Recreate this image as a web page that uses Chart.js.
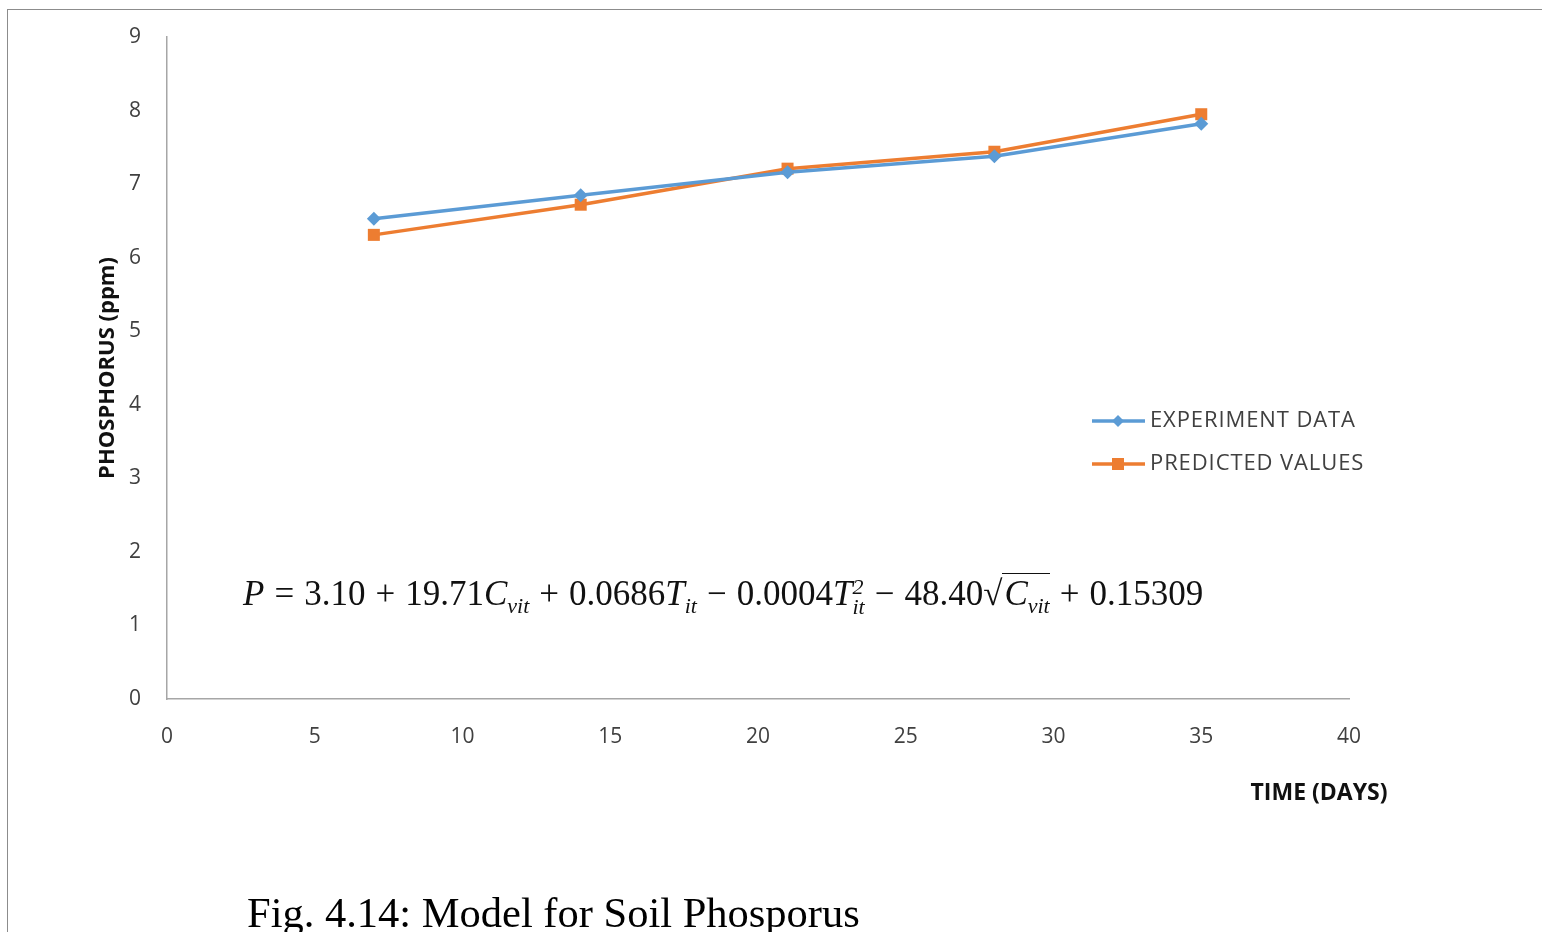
<!DOCTYPE html>
<html>
<head>
<meta charset="utf-8">
<script src="https://cdn.jsdelivr.net/npm/chart.js@4"></script>
<style>
  html, body { margin: 0; padding: 0; background: #fff; overflow: hidden; }
  #wrap { position: relative; width: 1542px; height: 932px; }
  #frame { position: absolute; left: 7px; top: 9px; width: 1600px; height: 1000px;
           border-top: 1px solid #8c8c8c; border-left: 1px solid #8c8c8c; }
  #myChart { position: absolute; left: 0; top: 0; }
  #equation { position: absolute; left: 243px; top: 574px; font-family: "Liberation Serif", serif;
              font-size: 35px; color: #111; white-space: nowrap; }
  #equation i { font-style: italic; }
  #equation sub, #equation sup { font-size: 22px; font-style: italic; }
  #equation .op { margin: 0 10px; }
  .root { border-top: 1.5px solid #111; padding-left: 2px; }
  #caption { position: absolute; left: 247px; top: 888px; font-family: "Liberation Serif", serif;
             font-size: 42.5px; color: #000; white-space: nowrap; }
</style>
</head>
<body>
<div id="wrap">
  <div id="frame"></div>
  <canvas id="myChart" width="1542" height="932"></canvas>
  <div id="equation"><i>P</i><span class="op">=</span>3.10<span class="op">+</span>19.71<i>C</i><sub>vit</sub><span class="op">+</span>0.0686<i>T</i><sub>it</sub><span class="op">&minus;</span>0.0004<i>T</i><span style="display:inline-block;vertical-align:middle;line-height:0.9;font-size:22px;font-style:italic;text-align:left">2<br>it</span><span class="op">&minus;</span>48.40&radic;<span class="root"><i>C</i><sub>vit</sub></span><span class="op">+</span>0.15309</div>
  <div id="caption">Fig. 4.14: Model for Soil Phosporus</div>
</div>
<script>
'use strict';

let timeDays = [7, 14, 21, 28, 35];
let experimentData = [6.53, 6.85, 7.16, 7.38, 7.82];
let predictedValues = [6.31, 6.72, 7.21, 7.44, 7.95];
let seriesNames = ["EXPERIMENT DATA", "PREDICTED VALUES"];
let xTitle = "TIME (DAYS)";
let yTitle = "PHOSPHORUS (ppm)";

let blue = "#5b9bd5";
let orange = "#ed7d31";

function toPoints(values) {
    let points = [];
    for (let i = 0; i < timeDays.length; i++) {
        points.push({ x: timeDays[i], y: values[i] });
    }
    return points;
}

// legend + x title drawn by hand, Excel puts them in odd spots
let extrasPlugin = {
    id: 'extras',
    afterDraw(chart) {
        let ctx = chart.ctx;
        ctx.save();
        let rows = [421, 464];
        chart.data.datasets.forEach(function (ds, i) {
            let y = rows[i];
            ctx.strokeStyle = ds.borderColor;
            ctx.lineWidth = 3.5;
            ctx.beginPath();
            ctx.moveTo(1092, y);
            ctx.lineTo(1145, y);
            ctx.stroke();
            ctx.fillStyle = ds.backgroundColor;
            ctx.beginPath();
            if (ds.pointStyle === 'rectRot') {
                ctx.moveTo(1118, y - 6);
                ctx.lineTo(1124, y);
                ctx.lineTo(1118, y + 6);
                ctx.lineTo(1112, y);
            } else {
                ctx.rect(1112, y - 6, 12, 12);
            }
            ctx.fill();
            ctx.fillStyle = '#404040';
            ctx.font = '22px "Open Sans"';
            ctx.letterSpacing = '0.9px';
            ctx.textBaseline = 'middle';
            ctx.textAlign = 'left';
            ctx.fillText(ds.label, 1150, y);
        });
        ctx.letterSpacing = '0px';
        ctx.fillStyle = '#111';
        ctx.font = 'bold 23px "Open Sans"';
        ctx.textAlign = 'center';
        ctx.textBaseline = 'middle';
        ctx.fillText(xTitle, 1319, 793);
        ctx.restore();
    }
};

let ctx = document.getElementById('myChart').getContext('2d');
let chart = new Chart(ctx, {
    type: 'line',
    data: {
        datasets: [{
            label: seriesNames[0],
            data: toPoints(experimentData),
            borderColor: blue,
            backgroundColor: blue,
            borderWidth: 3.5,
            pointStyle: 'rectRot',
            pointRadius: 7,
            pointBorderWidth: 0,
        },
        {
            label: seriesNames[1],
            data: toPoints(predictedValues),
            borderColor: orange,
            backgroundColor: orange,
            borderWidth: 3.5,
            pointStyle: 'rect',
            pointRadius: 8.5,
            pointBorderWidth: 0,
        }]
    },
    options: {
        responsive: false,
        animation: false,
        layout: { padding: { left: 95, top: 37, right: 193, bottom: 173 } },
        plugins: {
            legend: { display: false },
            tooltip: { enabled: false }
        },
        scales: {
            x: {
                type: 'linear',
                min: 0,
                max: 40,
                ticks: { stepSize: 5, color: '#404040', font: { family: 'Open Sans', size: 21 }, padding: 17 },
                grid: { display: false },
                border: { display: true, color: '#a6a6a6', width: 1.5 },
                afterFit(scale) { scale.height = 60; }
            },
            y: {
                min: 0,
                max: 9,
                ticks: { stepSize: 1, color: '#404040', font: { family: 'Open Sans', size: 21 }, padding: 18 },
                grid: { display: false },
                border: { display: true, color: '#a6a6a6', width: 1.5 },
                title: {
                    display: true,
                    text: yTitle,
                    color: '#111',
                    font: { family: 'Open Sans', size: 22, weight: 'bold' },
                    padding: 0
                },
                afterFit(scale) { scale.width = 72; }
            }
        }
    },
    plugins: [extrasPlugin]
});
</script>
</body>
</html>
